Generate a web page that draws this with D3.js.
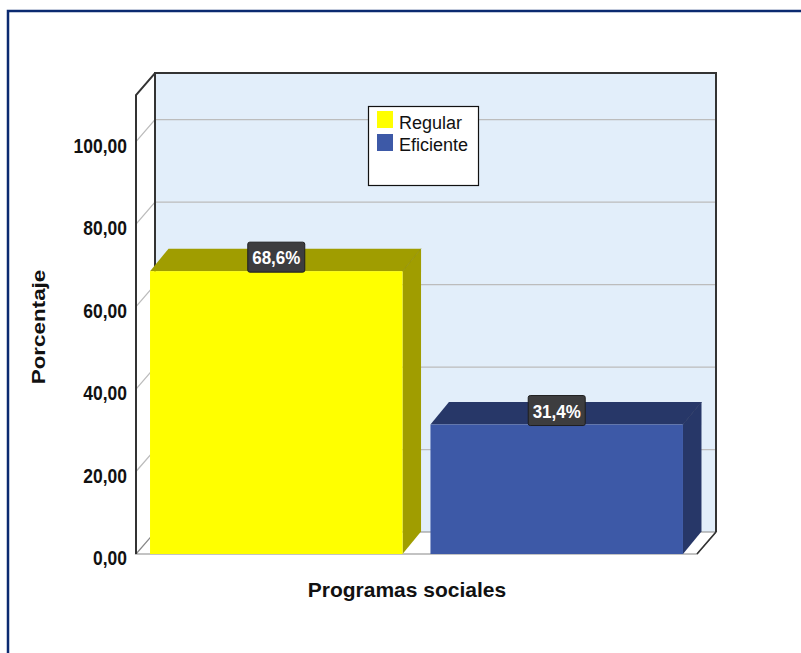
<!DOCTYPE html>
<html><head><meta charset="utf-8">
<script src="https://cdn.jsdelivr.net/npm/d3@7"></script>
<style>body{margin:0;background:#fff;} svg{display:block;font-family:"Liberation Sans",Arial,sans-serif;}</style>
</head><body>
<svg id="c" width="801" height="653"></svg>
<script>
const categories = ["Regular", "Eficiente"];
const values = [68.6, 31.4];
const valueLabels = ["68,6%", "31,4%"];
const yTicks = [0, 20, 40, 60, 80, 100];
const tickLabels = ["0,00", "20,00", "40,00", "60,00", "80,00", "100,00"];
const frontColors = ["#ffff00", "#3d59a7"];
const sideColors = ["#a09d00", "#273768"];
const xTitle = "Programas sociales";
const yTitle = "Porcentaje";

const svg = d3.select("#c");
const DX = 19, DY = -22;    // depth offset of wall
const BDX = 18.5, BDY = -22.5;  // depth offset of bars
const yMax = 111.3;
const y = d3.scaleLinear().domain([0, 100]).range([554, 141.7]);
const x = d3.scaleBand().domain(categories).range([136, 697]).paddingInner(0.0996).paddingOuter(0.05);
const x0 = 136, x1 = 697;

// frame
svg.append("path").attr("d", `M8,660 L8,11 L810,11`).attr("fill", "none").attr("stroke", "#0b2a70").attr("stroke-width", 2.5);

// back wall
svg.append("rect").attr("x", x0 + DX).attr("y", y(yMax) + DY).attr("width", x1 - x0).attr("height", y(0) - y(yMax))
  .attr("fill", "#e2eefa");
// left wall
svg.append("path").attr("d", `M${x0},${y(0)} L${x0},${y(yMax)} L${x0+DX},${y(yMax)+DY} L${x0+DX},${y(0)+DY} Z`).attr("fill", "#fff");
// floor
svg.append("path").attr("d", `M${x0},${y(0)} L${x0+DX},${y(0)+DY} L${x1+DX},${y(0)+DY} L${x1},${y(0)} Z`)
  .attr("fill", "#fff").attr("stroke", "#888").attr("stroke-width", 1.2);

// gridlines
yTicks.filter(t => t > 0).forEach(t => {
  svg.append("path").attr("d", `M${x0},${y(t)} L${x0+DX},${y(t)+DY} L${x1+DX},${y(t)+DY}`)
    .attr("fill", "none").attr("stroke", "#bcbcbc").attr("stroke-width", 1.3);
});

// wall outlines
svg.append("path").attr("d", `M${x0+DX},${y(0)+DY} L${x0+DX},${y(yMax)+DY} L${x1+DX},${y(yMax)+DY} L${x1+DX},${y(0)+DY}`)
  .attr("fill", "none").attr("stroke", "#333").attr("stroke-width", 2);
svg.append("path").attr("d", `M${x0+DX},${y(yMax)+DY} L${x0},${y(yMax)} L${x0},${y(0)}`)
  .attr("fill", "none").attr("stroke", "#333").attr("stroke-width", 2);
svg.append("path").attr("d", `M${x1+DX},${y(0)+DY} L${x1},${y(0)}`)
  .attr("fill", "none").attr("stroke", "#333").attr("stroke-width", 1.5);

// bars
const bars = svg.append("g");
categories.forEach((c, i) => {
  const bx = x(c), bw = x.bandwidth(), top = y(values[i]), bot = y(0);
  const g = bars.append("g");
  g.append("path").attr("d", `M${bx+bw},${bot} L${bx+bw},${top} L${bx+bw+BDX},${top+BDY} L${bx+bw+BDX},${bot+BDY} Z`).attr("fill", sideColors[i]);
  g.append("path").attr("d", `M${bx},${top} L${bx+BDX},${top+BDY} L${bx+bw+BDX},${top+BDY} L${bx+bw},${top} Z`).attr("fill", sideColors[i]);
  g.append("path").attr("d", `M${bx+bw},${top} L${bx+bw+BDX},${top+BDY}`).attr("stroke", d3.color(sideColors[i]).darker(0.3)).attr("stroke-width", 0.8);
  g.append("rect").attr("x", bx).attr("y", top).attr("width", bw).attr("height", bot - top).attr("fill", frontColors[i]);
  const cx = bx + bw / 2;
  g.append("rect").attr("x", cx - 28.5).attr("y", top - 29).attr("width", 57).attr("height", 30).attr("rx", 2)
    .attr("fill", "#3d3d3f").attr("stroke", "#1e1e1e").attr("stroke-width", 1);
  g.append("text").attr("transform", `translate(${cx},${top - 7}) scale(1,1.12)`).attr("text-anchor", "middle").attr("fill", "#fff")
    .attr("font-weight", "bold").attr("font-size", 17).text(valueLabels[i]);
});

// y tick labels
yTicks.forEach((t, i) => {
  svg.append("text").attr("transform", `translate(127,${y(t) + 11}) scale(1,1.12)`).attr("text-anchor", "end")
    .attr("font-weight", "bold").attr("font-size", 17.5).attr("fill", "#111").text(tickLabels[i]);
});

// titles
svg.append("text").attr("x", 407).attr("y", 597).attr("text-anchor", "middle").attr("font-weight", "bold")
  .attr("font-size", 21).attr("fill", "#111").text(xTitle);
svg.append("text").attr("transform", "translate(45,327) rotate(-90) scale(1.18,1)").attr("text-anchor", "middle").attr("font-weight", "bold")
  .attr("font-size", 19).attr("fill", "#111").text(yTitle);

// legend
const lg = svg.append("g");
lg.append("rect").attr("x", 368.5).attr("y", 106.5).attr("width", 110).attr("height", 79).attr("fill", "#fff").attr("stroke", "#111").attr("stroke-width", 1.2);
categories.forEach((c, i) => {
  lg.append("rect").attr("x", 377).attr("y", 111 + i * 23).attr("width", 16).attr("height", 17).attr("fill", frontColors[i]);
  lg.append("text").attr("x", 399).attr("y", 128.5 + i * 22.5).attr("font-size", 18).attr("fill", "#111").text(c);
});
</script>
</body></html>
